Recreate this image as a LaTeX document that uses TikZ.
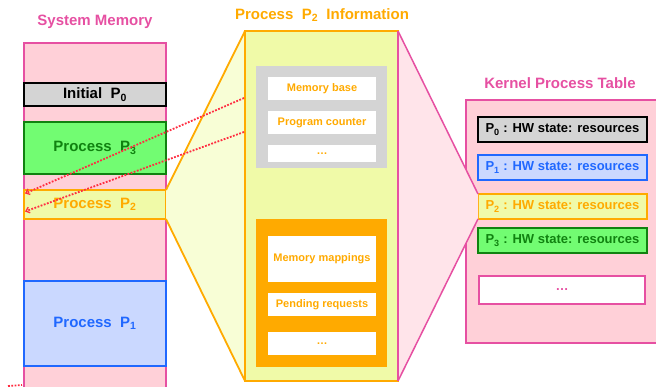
\documentclass[tikz,border=0pt]{standalone}
\usepackage{fontspec}
\setmainfont{Liberation Sans}
\usetikzlibrary{arrows.meta}
\definecolor{pinkline}{RGB}{230,80,162}
\definecolor{pinkfill}{RGB}{255,208,216}
\definecolor{pinkfan}{RGB}{255,228,234}
\definecolor{grayfill}{RGB}{212,212,212}
\definecolor{greenfill}{RGB}{114,252,114}
\definecolor{greenline}{RGB}{16,130,16}
\definecolor{yelfill}{RGB}{240,250,168}
\definecolor{yelfan}{RGB}{248,254,214}
\definecolor{orng}{RGB}{255,170,0}
\definecolor{bluefill}{RGB}{202,216,255}
\definecolor{blueline}{RGB}{32,104,255}
\definecolor{reddot}{RGB}{255,45,65}
\tikzset{
  bx/.style={inner sep=0pt, outer sep=0pt, font=\bfseries\fontsize{15}{17}\selectfont, line width=2pt},
  ttl/.style={inner sep=0pt, font=\bfseries\fontsize{15}{17}\selectfont},
  kent/.style={bx, minimum width=169pt, minimum height=25pt, font=\bfseries\fontsize{13}{15}\selectfont},
  ment/.style={inner sep=0pt, outer sep=0pt, fill=white, minimum width=108pt, text=orng, font=\bfseries\fontsize{11}{13}\selectfont},
  reddots/.style={draw=reddot, line width=1.8pt, dash pattern=on 1.8pt off 1.5pt},
  redarrow/.style={reddots, -{Straight Barb[length=3.5pt,width=6pt,line width=1.3pt]}},
}
\begin{document}
\begin{tikzpicture}[x=1pt,y=-1pt]
\clip (0,0) rectangle (656,387);
% titles
\node[ttl, text=pinkline] (tmem) at (95,22) {System Memory};
\node[ttl, text=orng] (tinfo) at (322,15) {Process\ \ P\textsubscript{2}\ \ Information};
\node[ttl, text=pinkline] (tkern) at (560,83) {Kernel Process Table};
% system memory column
\node[bx, draw=pinkline, fill=pinkfill, line width=1.5pt, minimum width=142pt, minimum height=360pt] (mem) at (95,223) {};
\node[bx, draw=black, fill=grayfill, minimum width=142pt, minimum height=23pt] (m0) at (95,94.5) {Initial\ \ P\textsubscript{0}};
\node[bx, draw=greenline, fill=greenfill, text=greenline, minimum width=142pt, minimum height=52pt] (m3) at (95,148) {Process\ \ P\textsubscript{3}};
\node[bx, draw=blueline, fill=bluefill, text=blueline, minimum width=142pt, minimum height=85pt] (m1) at (95,323.5) {Process\ \ P\textsubscript{1}};
% kernel table
\node[bx, draw=pinkline, fill=pinkfill, line width=1.5pt, minimum width=210pt, minimum height=243pt] (kern) at (571,221.5) {};
% P2 memory box
\node[bx, draw=orng, fill=yelfill, text=orng, minimum width=142pt, minimum height=29pt] (m2) at (95,204.5) {Process\ \ P\textsubscript{2}};
% kernel entries
\node[kent, draw=black, fill=grayfill, text=black] (k0) at (562.5,129.5) {P\textsubscript{0} : HW state: resources};
\node[kent, draw=blueline, fill=bluefill, text=blueline] (k1) at (562.5,167.5) {P\textsubscript{1} : HW state: resources};
\node[kent, draw=orng, fill=yelfill, text=orng] (k2) at (562.5,206.5) {P\textsubscript{2} : HW state: resources};
\node[kent, draw=greenline, fill=greenfill, text=greenline] (k3) at (562.5,240.5) {P\textsubscript{3} : HW state: resources};
\node[kent, draw=pinkline, fill=white, text=pinkline, minimum width=166pt, minimum height=28pt, line width=1.8pt] (kd) at (562,290) {\ldots};
% fan fills
\coordinate (pnw) at (245,31);
\coordinate (psw) at (245,381);
\coordinate (pne) at (398,31);
\coordinate (pse) at (398,381);
\fill[yelfan] (m2.north east) -- (pnw) -- (psw) -- (m2.south east) -- cycle;
\fill[pinkfan] (pne) -- (k2.north west) -- (k2.south west) -- (pse) -- cycle;
% info panel
\node[bx, draw=orng, fill=yelfill, minimum width=153pt, minimum height=350pt] (panel) at (321.5,206) {};
% fan lines
\draw[orng, line width=1.8pt, line join=round] (m2.north east) -- (panel.north west);
\draw[orng, line width=1.8pt, line join=round] (m2.south east) -- (panel.south west);
\draw[pinkline, line width=1.5pt] (panel.north east) -- (k2.north west);
\draw[pinkline, line width=1.5pt] (panel.south east) -- (k2.south west);
\draw[pinkline, line width=1.5pt] (panel.north east) -- (panel.south east);
% grey block
\node[inner sep=0pt, fill=grayfill, minimum width=131pt, minimum height=102pt] (gblk) at (321.5,117) {};
\node[ment, minimum height=23pt] (mb) at (322,88.5) {Memory base};
\node[ment, minimum height=23pt] (pc) at (322,122.5) {Program counter};
\node[ment, minimum height=17pt] (gd) at (322,153.5) {\ldots};
% orange block
\node[inner sep=0pt, fill=orng, minimum width=131pt, minimum height=148pt] (oblk) at (321.5,293) {};
\node[ment, minimum height=46pt] (mm) at (322,259) {Memory mappings};
\node[ment, minimum height=23pt] (pr) at (322,304.5) {Pending requests};
\node[ment, minimum height=23pt] (od) at (322,343.5) {\ldots};
% red dotted arrows
\coordinate (s1) at (244,98);
\coordinate (s2) at (244,132);
\coordinate (e1) at (25,193.5);
\coordinate (e2) at (25,211.5);
\draw[redarrow] (s1) -- (e1);
\draw[redarrow] (s2) -- (e2);
\coordinate (b1) at (8,386);
\coordinate (b2) at (22,385);
\draw[reddots] (b1) -- (b2);
\end{tikzpicture}
\end{document}
